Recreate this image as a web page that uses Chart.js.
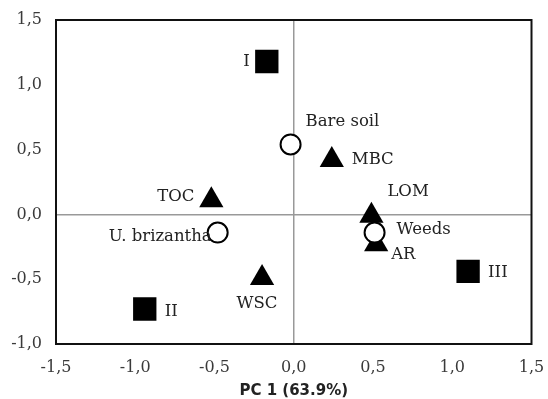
<!DOCTYPE html>
<html lang="en">
<head>
  <meta charset="UTF-8">
  <title>PCA biplot</title>
  <script src="https://cdn.jsdelivr.net/npm/chart.js"></script>
  <style>
    body { margin: 0; background: #fff; }
    #wrap { width: 548px; height: 399px; }
  </style>
</head>
<body>
  <div id="wrap"><canvas id="pcaChart" width="548" height="399"></canvas></div>
  <script>
    // treatments (squares)
    const treatLabels = ['I', 'II', 'III'];
    const treatX = [-0.17, -0.94, 1.10];
    const treatY = [1.18, -0.73, -0.44];

    // soil cover (open circles)
    const coverLabels = ['Bare soil', 'U. brizantha', 'Weeds'];
    const coverX = [-0.02, -0.48, 0.51];
    const coverY = [0.54, -0.14, -0.14];

    // soil attributes (triangles)
    const attrLabels = ['TOC', 'MBC', 'LOM', 'AR', 'WSC'];
    const attrX = [-0.52, 0.24, 0.49, 0.52, -0.20];
    const attrY = [0.11, 0.42, -0.01, -0.23, -0.49];

    const xTicks = [-1.5, -1.0, -0.5, 0.0, 0.5, 1.0, 1.5];
    const yTicks = [-1.0, -0.5, 0.0, 0.5, 1.0, 1.5];

    // where each label sits relative to its marker
    const labelPos = {
      'I': [-17, 0, 'right'],
      'II': [20, 3, 'left'],
      'III': [20, 1, 'left'],
      'Bare soil': [15, -23, 'left'],
      'U. brizantha': [-6, 4, 'right'],
      'Weeds': [22, -3, 'left'],
      'TOC': [-17, -3, 'right'],
      'MBC': [20, 0, 'left'],
      'LOM': [16, -24, 'left'],
      'AR': [15, 11, 'left'],
      'WSC': [-5, 26, 'center']
    };

    const toPts = (xs, ys, names) => xs.map((x, i) => ({ x: x, y: ys[i], name: names[i] }));
    const fmt = v => v.toFixed(1).replace('.', ',');

    const frameAndLabels = {
      id: 'frameAndLabels',
      afterDatasetsDraw(chart) {
        const ctx = chart.ctx;
        const a = chart.chartArea;
        ctx.save();
        ctx.strokeStyle = '#111';
        ctx.lineWidth = 2;
        ctx.strokeRect(a.left, a.top, a.right - a.left, a.bottom - a.top);
        ctx.fillStyle = '#222';
        ctx.font = '16.5px "DejaVu Serif", serif';
        ctx.textBaseline = 'middle';
        chart.data.datasets.forEach((ds, di) => {
          const meta = chart.getDatasetMeta(di);
          meta.data.forEach((el, i) => {
            const name = ds.data[i].name;
            const p = labelPos[name] || [12, 0, 'left'];
            ctx.textAlign = p[2];
            ctx.fillText(name, el.x + p[0], el.y + p[1]);
          });
        });
        ctx.restore();
      }
    };

    const zeroGrid = c => (c.tick && c.tick.value === 0) ? '#999' : 'rgba(0,0,0,0)';

    new Chart(document.getElementById('pcaChart'), {
      type: 'scatter',
      data: {
        datasets: [
          {
            label: 'Treatments',
            data: toPts(treatX, treatY, treatLabels),
            pointStyle: 'rect',
            pointRadius: 16.5,
            pointHoverRadius: 16.5,
            backgroundColor: '#000',
            borderColor: '#000',
            borderWidth: 0
          },
          {
            label: 'Cover',
            data: toPts(coverX, coverY, coverLabels),
            pointStyle: 'circle',
            pointRadius: 10,
            pointHoverRadius: 10,
            backgroundColor: '#fff',
            borderColor: '#000',
            borderWidth: 2
          },
          {
            label: 'Attributes',
            data: toPts(attrX, attrY, attrLabels),
            pointStyle: 'triangle',
            pointRadius: 14,
            pointHoverRadius: 14,
            backgroundColor: '#000',
            borderColor: '#000',
            borderWidth: 0
          }
        ]
      },
      options: {
        responsive: false,
        animation: false,
        layout: { padding: { top: 20, right: 14, left: 0, bottom: 0 } },
        plugins: {
          legend: { display: false },
          tooltip: { enabled: false }
        },
        scales: {
          x: {
            min: -1.5,
            max: 1.5,
            afterBuildTicks: s => { s.ticks = xTicks.map(v => ({ value: v })); },
            afterFit: s => { s.height = 55; s.paddingLeft = 0; s.paddingRight = 0; },
            ticks: {
              callback: v => fmt(v),
              color: '#3a3a3a',
              padding: 14,
              font: { family: '"DejaVu Serif", serif', size: 16 }
            },
            grid: { color: zeroGrid, lineWidth: 1.5, drawTicks: false },
            border: { display: false },
            title: {
              display: true,
              text: 'PC 1 (63.9%)',
              color: '#222',
              padding: { top: 0, bottom: 0 },
              font: { family: '"DejaVu Sans", sans-serif', size: 15, weight: 'bold', lineHeight: 1 }
            }
          },
          y: {
            min: -1.0,
            max: 1.5,
            afterBuildTicks: s => { s.ticks = yTicks.map(v => ({ value: v })); },
            afterFit: s => { s.width = 56; s.paddingTop = 0; s.paddingBottom = 0; },
            ticks: {
              callback: v => fmt(v),
              color: '#3a3a3a',
              padding: 14,
              font: { family: '"DejaVu Serif", serif', size: 16 }
            },
            grid: { color: zeroGrid, lineWidth: 1.5, drawTicks: false },
            border: { display: false }
          }
        }
      },
      plugins: [frameAndLabels]
    });
  </script>
</body>
</html>
